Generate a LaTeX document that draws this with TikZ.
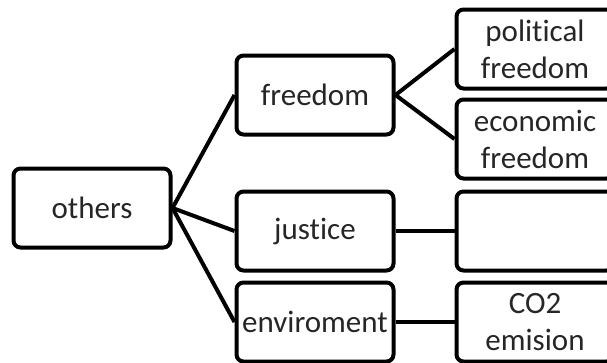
\documentclass[tikz,border=0pt]{standalone}
\usepackage{fontspec}
\setmainfont{Carlito}[Ligatures=NoCommon]
\begin{document}
\begin{tikzpicture}[x=1pt,y=-1pt,
  box/.style={draw=black, line width=4pt, rounded corners=7pt, fill=white,
    minimum width=157pt, minimum height=79pt, inner sep=0pt, align=center,
    font=\fontsize{31}{37}\selectfont, text=black!85},
  link/.style={line width=4pt, black}]
\clip (0,0) rectangle (607,362);
\fill[white] (0,0) rectangle (607,362);
% main topic
\node[box] (others) at (92,208) {others};
% second level
\node[box] (freedom) at (315,95) {freedom};
\node[box] (justice) at (315,231) {justice};
\node[box] (env) at (315,322) {enviroment};
% third level
\node[box] (pol) at (535,49) {political\\freedom};
\node[box] (eco) at (535,139) {economic\\freedom};
\node[box] (emp) at (535,231) {};
\node[box] (co2) at (535,322) {CO2\\emision};
% connectors
\draw[link] (others.east) -- (freedom.west);
\draw[link] (others.east) -- (justice.west);
\draw[link] (others.east) -- (env.west);
\draw[link] (freedom.east) -- (pol.west);
\draw[link] (freedom.east) -- (eco.west);
\draw[link] (justice.east) -- (emp.west);
\draw[link] (env.east) -- (co2.west);
\end{tikzpicture}
\end{document}
